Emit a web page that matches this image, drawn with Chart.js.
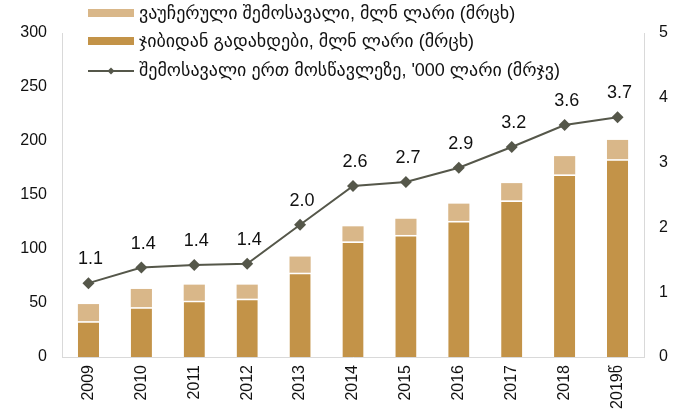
<!DOCTYPE html>
<html>
<head>
<meta charset="utf-8">
<script src="https://cdn.jsdelivr.net/npm/chart.js@4"></script>
<style>
  html, body { margin: 0; padding: 0; background: #fff; }
  #wrap { width: 686px; height: 417px; }
</style>
</head>
<body>
<div id="wrap"><canvas id="chart" width="686" height="417"></canvas></div>
<script>
const years = ["2009", "2010", "2011", "2012", "2013", "2014", "2015", "2016", "2017", "2018", "2019წ"];
const outOfPocket = [33, 46, 52, 54, 78, 107, 113, 126, 145, 169, 183];
const voucher = [16, 17, 15, 13, 15, 14, 15, 16, 16, 17, 18];
const perStudent = [1.14, 1.38, 1.42, 1.44, 2.04, 2.64, 2.7, 2.92, 3.24, 3.58, 3.7];

const seriesNames = [
  "ვაუჩერული შემოსავალი, მლნ ლარი (მრცხ)",
  "ჯიბიდან გადახდები, მლნ ლარი (მრცხ)",
  "შემოსავალი ერთ მოსწავლეზე, '000 ლარი (მრჯვ)"
];

const darkGold = "#C39348";
const lightGold = "#D9B789";
const lineGrey = "#55574A";
const fontFam = "'Liberation Sans', 'DejaVu Sans', Arial, sans-serif";

// labels above the line points
const pointLabels = {
  id: "pointLabels",
  afterDatasetsDraw(chart) {
    const ctx = chart.ctx;
    const meta = chart.getDatasetMeta(2);
    ctx.save();
    ctx.font = "18px " + fontFam;
    ctx.fillStyle = "#111";
    ctx.textAlign = "center";
    ctx.textBaseline = "middle";
    meta.data.forEach((pt, i) => {
      ctx.fillText(perStudent[i].toFixed(1), pt.x + 2, pt.y - 24);
    });
    ctx.restore();
  }
};

// legend drawn in the top-left corner of the plot
const cornerLegend = {
  id: "cornerLegend",
  afterDraw(chart) {
    const ctx = chart.ctx;
    ctx.save();
    ctx.font = "18px " + fontFam;
    ctx.textBaseline = "middle";
    const x0 = 88, tx = 139;
    ctx.fillStyle = lightGold;
    ctx.fillRect(x0, 9, 46, 8);
    ctx.fillStyle = darkGold;
    ctx.fillRect(x0, 37, 46, 8);
    ctx.strokeStyle = lineGrey;
    ctx.lineWidth = 2;
    ctx.beginPath();
    ctx.moveTo(x0, 71);
    ctx.lineTo(x0 + 46, 71);
    ctx.stroke();
    ctx.fillStyle = lineGrey;
    ctx.beginPath();
    ctx.moveTo(x0 + 23, 67.5);
    ctx.lineTo(x0 + 26.5, 71);
    ctx.lineTo(x0 + 23, 74.5);
    ctx.lineTo(x0 + 19.5, 71);
    ctx.closePath();
    ctx.fill();
    ctx.fillStyle = "#111";
    ctx.fillText(seriesNames[0], tx, 14);
    ctx.fillText(seriesNames[1], tx, 42);
    ctx.fillText(seriesNames[2], tx, 71);
    ctx.restore();
  }
};

new Chart(document.getElementById("chart"), {
  type: "bar",
  data: {
    labels: years,
    datasets: [
      {
        label: seriesNames[1],
        data: outOfPocket,
        backgroundColor: darkGold,
        borderColor: "#fff",
        borderWidth: { top: 1.5, left: 0, right: 0, bottom: 0 },
        borderSkipped: false,
        stack: "s",
        yAxisID: "y",
        order: 2
      },
      {
        label: seriesNames[0],
        data: voucher,
        backgroundColor: lightGold,
        stack: "s",
        yAxisID: "y",
        order: 2
      },
      {
        type: "line",
        label: seriesNames[2],
        data: perStudent,
        borderColor: lineGrey,
        backgroundColor: lineGrey,
        borderWidth: 2,
        pointStyle: "rectRot",
        pointRadius: 6,
        pointBorderWidth: 0,
        yAxisID: "y1",
        order: 1
      }
    ]
  },
  options: {
    responsive: false,
    animation: false,
    barPercentage: 0.4,
    categoryPercentage: 1,
    layout: { padding: { top: 33, left: 0, right: 0, bottom: 0 } },
    plugins: {
      legend: { display: false },
      tooltip: { enabled: false }
    },
    scales: {
      x: {
        stacked: true,
        grid: { display: false, drawTicks: false },
        border: { display: true, color: "#D9D9D9", width: 1 },
        ticks: {
          color: "#111",
          font: { size: 16, family: fontFam },
          minRotation: 90,
          maxRotation: 90,
          padding: 8,
          autoSkip: false
        },
        afterFit(scale) { scale.height = 60; }
      },
      y: {
        stacked: true,
        position: "left",
        min: 0,
        max: 300,
        grid: { display: false, drawTicks: false },
        border: { display: true, color: "#D9D9D9", width: 1 },
        ticks: {
          stepSize: 50,
          color: "#111",
          font: { size: 16, family: fontFam },
          padding: 15
        },
        afterFit(scale) { scale.width = 62; }
      },
      y1: {
        position: "right",
        min: 0,
        max: 5,
        grid: { display: false, drawTicks: false },
        border: { display: true, color: "#D9D9D9", width: 1 },
        ticks: {
          stepSize: 1,
          color: "#111",
          font: { size: 16, family: fontFam },
          padding: 15
        },
        afterFit(scale) { scale.width = 42; }
      }
    }
  },
  plugins: [pointLabels, cornerLegend]
});
</script>
</body>
</html>
